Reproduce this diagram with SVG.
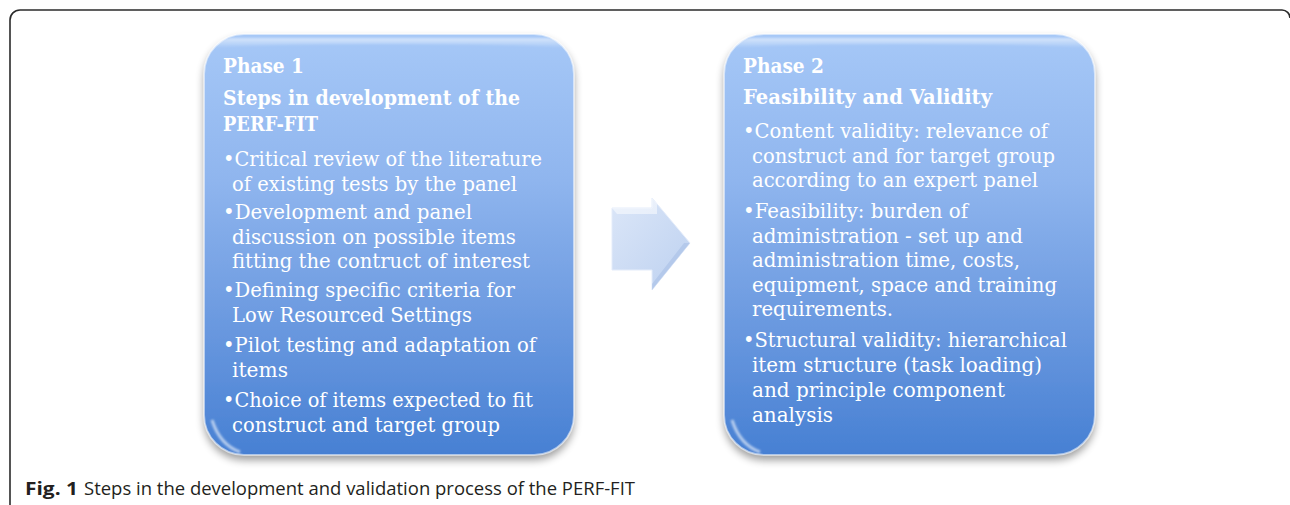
<svg xmlns="http://www.w3.org/2000/svg" width="1290" height="505" viewBox="0 0 1290 505">
  <style>
    .hd { font-family: "DejaVu Serif", "Liberation Serif", serif; font-weight: bold; font-size: 19.5px; fill: #ffffff; }
    .tx { font-family: "DejaVu Serif", "Liberation Serif", serif; font-size: 19.5px; fill: #ffffff; }
    .cap { font-family: "Open Sans", "Liberation Sans", sans-serif; font-size: 18px; fill: #231f20; }
    .frame { fill: none; stroke: #2b2b2b; stroke-width: 1.6; }
  </style>
  <defs>
    <linearGradient id="boxFill" x1="0" y1="0" x2="0" y2="1">
      <stop offset="0" stop-color="#a6c8f7"/>
      <stop offset="0.35" stop-color="#8fb5ee"/>
      <stop offset="0.7" stop-color="#6998df"/>
      <stop offset="1" stop-color="#4780d3"/>
    </linearGradient>
    <linearGradient id="gloss" x1="0" y1="0" x2="0" y2="1">
      <stop offset="0" stop-color="#ffffff" stop-opacity="0.55"/>
      <stop offset="1" stop-color="#ffffff" stop-opacity="0"/>
    </linearGradient>
    <linearGradient id="arrowFill" x1="0" y1="0" x2="1" y2="1">
      <stop offset="0" stop-color="#dbe6f8"/>
      <stop offset="1" stop-color="#bdd1f0"/>
    </linearGradient>
    <filter id="shadow" x="-10%" y="-10%" width="120%" height="125%">
      <feGaussianBlur in="SourceAlpha" stdDeviation="4"/>
      <feOffset dx="0" dy="5" result="b"/>
      <feComponentTransfer><feFuncA type="linear" slope="0.4"/></feComponentTransfer>
      <feMerge><feMergeNode/><feMergeNode in="SourceGraphic"/></feMerge>
    </filter>
    <filter id="soft" x="-20%" y="-20%" width="140%" height="140%">
      <feGaussianBlur stdDeviation="1.2"/>
    </filter>
  </defs>

  <rect width="1290" height="505" fill="#ffffff"/>

  <!-- figure frame (open at the bottom) -->
  <path class="frame" d="M10,505 V20 A10,10 0 0 1 20,10 H1282 A8,8 0 0 1 1290,18"/>

  <!-- Phase 1 box -->
  <g id="phase1">
    <rect x="204" y="34" width="370" height="421" rx="40" fill="url(#boxFill)" filter="url(#shadow)"/>
    <rect x="204" y="34" width="370" height="421" rx="40" fill="none" stroke="#ffffff" stroke-opacity="0.55" stroke-width="2"/>
    <path d="M232,38 H546 Q562,38 566,48 Q520,44 389,44 Q258,44 212,48 Q216,38 232,38 Z" fill="url(#gloss)" filter="url(#soft)"/>
    <path d="M212,420 Q220,445 240,452" fill="none" stroke="#ffffff" stroke-opacity="0.6" stroke-width="3" filter="url(#soft)"/>
    <text class="hd" x="223" y="73" textLength="81" lengthAdjust="spacingAndGlyphs">Phase 1</text>
    <text class="hd" x="223" y="105" textLength="297" lengthAdjust="spacingAndGlyphs">Steps in development of the</text>
    <text class="hd" x="223" y="131" textLength="95" lengthAdjust="spacingAndGlyphs">PERF-FIT</text>
    <text class="tx" x="223" y="166" textLength="319" lengthAdjust="spacingAndGlyphs">•Critical review of the literature</text>
    <text class="tx" x="232" y="190.5" textLength="285" lengthAdjust="spacingAndGlyphs">of existing tests by the panel</text>
    <text class="tx" x="223" y="219" textLength="249" lengthAdjust="spacingAndGlyphs">•Development and panel</text>
    <text class="tx" x="232" y="243.5" textLength="284" lengthAdjust="spacingAndGlyphs">discussion on possible items</text>
    <text class="tx" x="232" y="268" textLength="298" lengthAdjust="spacingAndGlyphs">fitting the contruct of interest</text>
    <text class="tx" x="223" y="297" textLength="292" lengthAdjust="spacingAndGlyphs">•Defining specific criteria for</text>
    <text class="tx" x="232" y="321.5" textLength="240" lengthAdjust="spacingAndGlyphs">Low Resourced Settings</text>
    <text class="tx" x="223" y="352" textLength="313" lengthAdjust="spacingAndGlyphs">•Pilot testing and adaptation of</text>
    <text class="tx" x="232" y="376.5" textLength="56" lengthAdjust="spacingAndGlyphs">items</text>
    <text class="tx" x="223" y="407" textLength="310" lengthAdjust="spacingAndGlyphs">•Choice of items expected to fit</text>
    <text class="tx" x="232" y="432" textLength="268" lengthAdjust="spacingAndGlyphs">construct and target group</text>
  </g>

  <!-- Phase 2 box -->
  <g id="phase2">
    <rect x="724" y="34" width="371" height="421" rx="40" fill="url(#boxFill)" filter="url(#shadow)"/>
    <rect x="724" y="34" width="371" height="421" rx="40" fill="none" stroke="#ffffff" stroke-opacity="0.55" stroke-width="2"/>
    <path d="M752,38 H1067 Q1083,38 1087,48 Q1040,44 909,44 Q778,44 732,48 Q736,38 752,38 Z" fill="url(#gloss)" filter="url(#soft)"/>
    <path d="M732,420 Q740,445 760,452" fill="none" stroke="#ffffff" stroke-opacity="0.6" stroke-width="3" filter="url(#soft)"/>
    <text class="hd" x="743" y="73" textLength="81" lengthAdjust="spacingAndGlyphs">Phase 2</text>
    <text class="hd" x="743" y="104" textLength="249" lengthAdjust="spacingAndGlyphs">Feasibility and Validity</text>
    <text class="tx" x="743" y="138" textLength="305" lengthAdjust="spacingAndGlyphs">•Content validity: relevance of</text>
    <text class="tx" x="752" y="162.5" textLength="303" lengthAdjust="spacingAndGlyphs">construct and for target group</text>
    <text class="tx" x="752" y="187" textLength="286" lengthAdjust="spacingAndGlyphs">according to an expert panel</text>
    <text class="tx" x="743" y="218" textLength="225" lengthAdjust="spacingAndGlyphs">•Feasibility: burden of</text>
    <text class="tx" x="752" y="242.5" textLength="271" lengthAdjust="spacingAndGlyphs">administration - set up and</text>
    <text class="tx" x="752" y="267" textLength="268" lengthAdjust="spacingAndGlyphs">administration time, costs,</text>
    <text class="tx" x="752" y="291.5" textLength="305" lengthAdjust="spacingAndGlyphs">equipment, space and training</text>
    <text class="tx" x="752" y="316" textLength="141" lengthAdjust="spacingAndGlyphs">requirements.</text>
    <text class="tx" x="743" y="347" textLength="324" lengthAdjust="spacingAndGlyphs">•Structural validity: hierarchical</text>
    <text class="tx" x="752" y="372" textLength="290" lengthAdjust="spacingAndGlyphs">item structure (task loading)</text>
    <text class="tx" x="752" y="397" textLength="253" lengthAdjust="spacingAndGlyphs">and principle component</text>
    <text class="tx" x="752" y="422" textLength="81" lengthAdjust="spacingAndGlyphs">analysis</text>
  </g>

  <!-- connector: block arrow between the phases -->
  <g id="connectors">
    <path d="M612,208 H652 V198 L690,243 L652,290 V270 H612 Z" fill="url(#arrowFill)" stroke="#e4ecfa" stroke-width="1"/>
    <path d="M612,208 H652 V198 L657,204 V214 H617 Z" fill="#ffffff" fill-opacity="0.5"/>
    <path d="M690,243 L652,290 V284 L684,243 Z" fill="#a9c0e6" fill-opacity="0.6"/>
  </g>

  <!-- caption -->
  <text class="cap" x="25" y="495" font-weight="bold" textLength="53" lengthAdjust="spacingAndGlyphs">Fig. 1</text>
  <text class="cap" x="84" y="495" textLength="551" lengthAdjust="spacingAndGlyphs">Steps in the development and validation process of the PERF-FIT</text>
</svg>
